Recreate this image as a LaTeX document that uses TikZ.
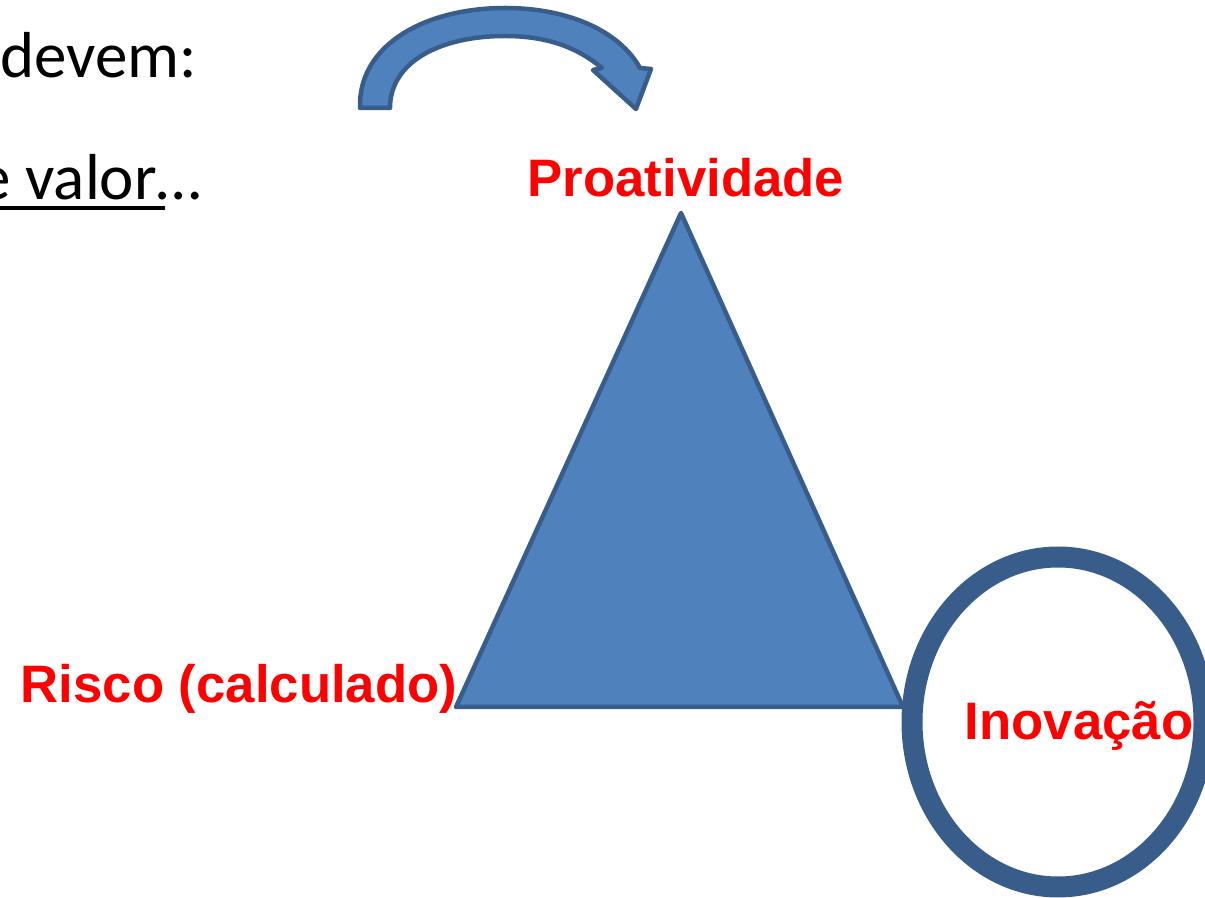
\documentclass[tikz,border=0pt]{standalone}
\usepackage{fontspec}
\setmainfont{Carlito}
\newfontfamily\arialf{Liberation Sans}
\definecolor{fillblue}{HTML}{4F81BD}
\definecolor{edgeblue}{HTML}{385D8A}
\definecolor{labelred}{HTML}{FF0000}
\tikzset{
  bodytext/.style={inner sep=0pt, font=\fontsize{37}{42}\selectfont, text=black},
  redlabel/.style={inner sep=0pt, font=\arialf\bfseries\fontsize{30}{36}\selectfont, text=labelred},
  blueshape/.style={fill=fillblue, draw=edgeblue, line width=0.09cm, line join=round},
}
\begin{document}
\begin{tikzpicture}[x=0.02cm,y=-0.02cm]
\useasboundingbox (0,0) rectangle (1205,898);
\clip (0,0) rectangle (1205,898);
% body text
\node[bodytext, anchor=base east] (l1) at (197,78) {devem:};
\node[bodytext, anchor=base west] (l2) at (-22,200) {e valor…};
\draw[line width=0.07cm] (-22,208) -- (165,208);
% curved arrow
\draw[blueshape] (360,108) .. controls (358,45) and (425,8) .. (505,8)
  .. controls (570,8) and (620,32) .. (640,68)
  -- (651,69) -- (636,109) -- (593,70) -- (602,68)
  .. controls (578,48) and (548,36) .. (505,36)
  .. controls (440,36) and (390,62) .. (390,108) -- cycle;
% triangle
\coordinate (apex) at (681,213);
\coordinate (left) at (456,707);
\coordinate (right) at (903,707);
\draw[blueshape] (apex) -- (left) -- (right) -- cycle;
% ellipse
\coordinate (ellc) at (1058,722);
\draw[edgeblue, line width=0.42cm, fill=white] (ellc) ellipse [x radius=146, y radius=165];
% labels
\node[redlabel, anchor=base] (pro) at (686,197) {Proatividade};
\node[redlabel, anchor=base] (risco) at (239,703) {Risco (calculado)};
\node[redlabel, anchor=base] (inov) at (1079,740) {Inovação};
\end{tikzpicture}
\end{document}
